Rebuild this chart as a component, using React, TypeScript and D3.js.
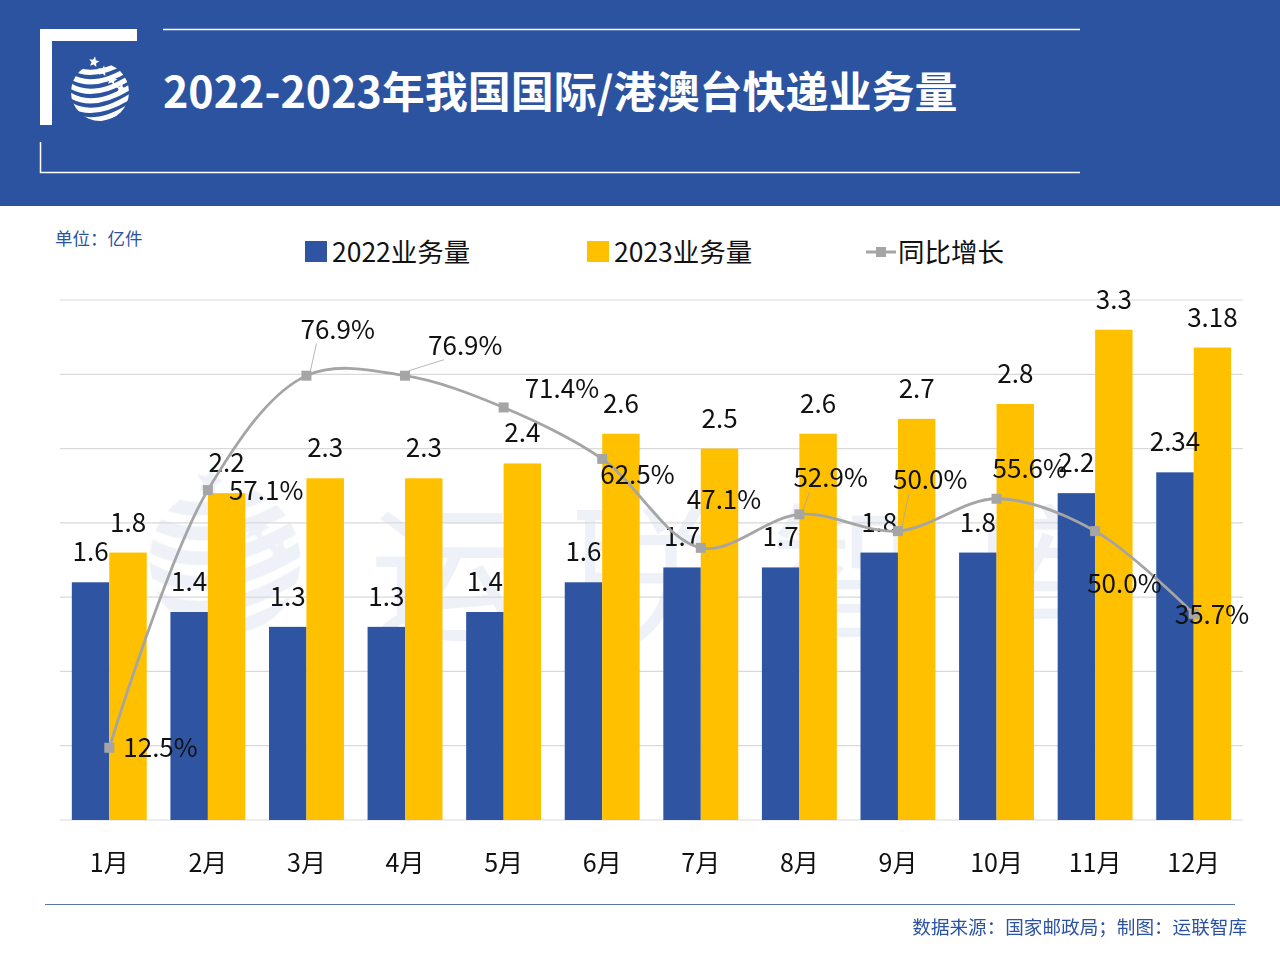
import React from "react";
import * as d3 from "d3";

const months = ["1月", "2月", "3月", "4月", "5月", "6月", "7月", "8月", "9月", "10月", "11月", "12月"];
const vol2022 = [1.6, 1.4, 1.3, 1.3, 1.4, 1.6, 1.7, 1.7, 1.8, 1.8, 2.2, 2.34];
const vol2023 = [1.8, 2.2, 2.3, 2.3, 2.4, 2.6, 2.5, 2.6, 2.7, 2.8, 3.3, 3.18];
const yoy = [12.5, 57.1, 76.9, 76.9, 71.4, 62.5, 47.1, 52.9, 50.0, 55.6, 50.0, 35.7];
const barLabels2022 = ["1.6", "1.4", "1.3", "1.3", "1.4", "1.6", "1.7", "1.7", "1.8", "1.8", "2.2", "2.34"];
const barLabels2023 = ["1.8", "2.2", "2.3", "2.3", "2.4", "2.6", "2.5", "2.6", "2.7", "2.8", "3.3", "3.18"];

// label offsets (layout) for growth labels, relative to point
const yoyLabelDx = [14, 21, -6, 23, 21, -2, -14, -6, -5, -4, -8, -19];
const yoyLabelDy = [0, 1, -46, -30, -18, 16, -48, -36, -51, -30, 53, 1];
const leaderIdx = [2, 3, 7, 8];

const BLUE = "#2E54A2";
const YELLOW = "#FFC000";
const GRAY = "#A5A5A5";
const HEADER = "#2B53A0";
const FONT = "'Noto Sans CJK SC', 'Noto Sans', sans-serif";

function star(cx: number, cy: number, r: number, rot: number) {
  const pts: string[] = [];
  for (let i = 0; i < 10; i++) {
    const rr = i % 2 === 0 ? r : r * 0.45;
    const a = rot + (i * Math.PI) / 5 - Math.PI / 2;
    pts.push(`${cx + rr * Math.cos(a)},${cy + rr * Math.sin(a)}`);
  }
  return pts.join(" ");
}

function Logo({ x, y, s, fill, id }: { x: number; y: number; s: number; fill: string; id: string }) {
  const stripes = [0, 1, 2, 3, 4, 5];
  return (
    <g transform={`translate(${x},${y}) scale(${s})`}>
      <defs>
        <clipPath id={id}>
          <circle cx={0} cy={0} r={29} />
        </clipPath>
      </defs>
      <g clipPath={`url(#${id})`}>
        {stripes.map((i) => {
          const y0 = -22 + i * 9.5;
          return (
            <path
              key={i}
              d={`M-34,${y0 - 6} Q-8,${y0 + 14} 34,${y0 - 14}`}
              fill="none"
              stroke={fill}
              strokeWidth={5.2}
            />
          );
        })}
      </g>
      {[0, 1, 2, 3].map((i) => (
        <polygon key={"s" + i} points={star(-6 + i * 9, -30 + i * 9, 5.5, 0.2)} fill={fill} />
      ))}
    </g>
  );
}

export default function App() {
  const W = 1280;
  const H = 954;
  const left = 60;
  const right = 1243;
  const top = 300;
  const bottom = 820;

  const x = d3.scaleBand<string>().domain(months).range([left, right]).paddingInner(0).paddingOuter(0);
  const yBar = d3.scaleLinear().domain([0, 3.5]).range([bottom, top]);
  const yLine = d3.scaleLinear().domain([0, 90]).range([bottom, top]);
  const bw = x.bandwidth();
  const barW = bw * 0.38;
  const ticks = d3.range(0, 3.5001, 0.5);

  const pts: [number, number][] = yoy.map((v, i) => [x(months[i])! + bw / 2, yLine(v)]);
  const line = d3.line().curve(d3.curveCatmullRom.alpha(0.5))(pts) || "";

  return (
    <svg width={W} height={H} style={{ position: "absolute", left: 0, top: 0, background: "#fff" }} fontFamily={FONT}>
      <rect x={0} y={0} width={W} height={H} fill="#fff" />
      {/* header */}
      <rect x={0} y={0} width={W} height={206} fill={HEADER} />
      <path d="M40,29 H137 V41 H52 V125 H40 Z" fill="#fff" />
      <line x1={163} y1={29.5} x2={1080} y2={29.5} stroke="#fff" strokeWidth={1.5} />
      <path d="M40.5,142 V172.5 H1080" fill="none" stroke="#fff" strokeWidth={1.5} />
      <Logo x={100} y={92} s={1} fill="#fff" id="logoA" />
      <text x={163} y={108} fill="#fff" fontSize={43} fontWeight={700}>
        2022-2023年我国国际/港澳台快递业务量
      </text>

      {/* unit */}
      <text x={55} y={245} fill={HEADER} fontSize={17.5}>单位：亿件</text>

      {/* legend */}
      <rect x={305} y={241} width={22} height={21} fill={BLUE} />
      <text x={332} y={262} fontSize={26.5} fill="#111">2022业务量</text>
      <rect x={587} y={241} width={22} height={21} fill={YELLOW} />
      <text x={614} y={262} fontSize={26.5} fill="#111">2023业务量</text>
      <line x1={866} y1={252} x2={896} y2={252} stroke={GRAY} strokeWidth={3} />
      <rect x={876} y={247} width={10} height={10} fill={GRAY} />
      <text x={898} y={262} fontSize={26.5} fill="#111">同比增长</text>

      {/* watermark */}
      <g opacity={0.08}>
        <Logo x={225} y={560} s={2.6} fill={HEADER} id="logoB" />
        <text x={370} y={630} fontSize={150} fill={HEADER} letterSpacing={50}>运联智库</text>
      </g>

      {/* grid */}
      {ticks.map((t) => (
        <line key={t} x1={left} x2={right} y1={yBar(t)} y2={yBar(t)} stroke="#D9D9D9" strokeWidth={1.2} />
      ))}

      {/* bars */}
      {months.map((m, i) => {
        const cx = x(m)! + bw / 2;
        return (
          <g key={m}>
            <rect x={cx - barW} y={yBar(vol2022[i])} width={barW} height={bottom - yBar(vol2022[i])} fill={BLUE} />
            <rect x={cx} y={yBar(vol2023[i])} width={barW} height={bottom - yBar(vol2023[i])} fill={YELLOW} />
          </g>
        );
      })}

      {/* bar labels */}
      {months.map((m, i) => {
        const cx = x(m)! + bw / 2;
        return (
          <g key={"bl" + m} fontSize={26} fill="#111" textAnchor="middle">
            <text x={cx - barW / 2} y={yBar(vol2022[i]) - 21}>{barLabels2022[i]}</text>
            <text x={cx + barW / 2} y={yBar(vol2023[i]) - 21}>{barLabels2023[i]}</text>
          </g>
        );
      })}

      {/* axis labels */}
      {months.map((m) => (
        <text key={"ax" + m} x={x(m)! + bw / 2} y={872} fontSize={25} textAnchor="middle" fill="#111">{m}</text>
      ))}

      {/* yoy line */}
      <path d={line} fill="none" stroke={GRAY} strokeWidth={2.8} />
      {pts.map(([px, py], i) => (
        <rect key={"pt" + i} x={px - 5} y={py - 5} width={10} height={10} fill={GRAY} />
      ))}
      {leaderIdx.map((i) => {
        const [px, py] = pts[i];
        const lx = px + yoyLabelDx[i] + 16;
        const ly = py + yoyLabelDy[i] + 14;
        return <line key={"ld" + i} x1={px + 4} y1={py - 5} x2={lx} y2={ly} stroke={GRAY} strokeWidth={0.8} />;
      })}
      {pts.map(([px, py], i) => (
        <text key={"yl" + i} x={px + yoyLabelDx[i]} y={py + yoyLabelDy[i] + 9} fontSize={26} fill="#111">
          {yoy[i].toFixed(1)}%
        </text>
      ))}

      {/* footer */}
      <line x1={45} x2={1235} y1={904.5} y2={904.5} stroke="#5A73A8" strokeWidth={1.2} />
      <text x={1247} y={934} fontSize={18.6} fill={HEADER} textAnchor="end">数据来源：国家邮政局；制图：运联智库</text>
    </svg>
  );
}
